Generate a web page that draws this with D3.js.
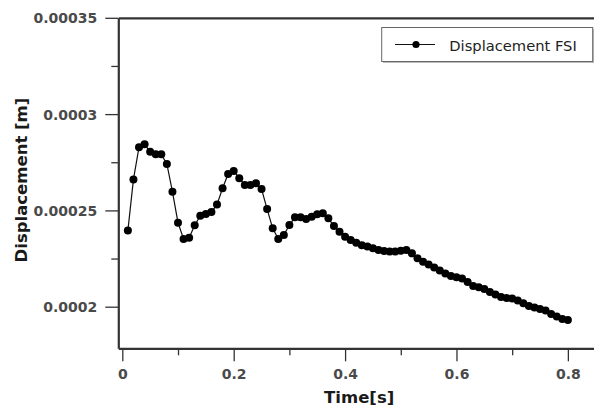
<!DOCTYPE html>
<html>
<head>
<meta charset="utf-8">
<script src="https://cdn.jsdelivr.net/npm/d3@7"></script>
<style>
  html, body { margin: 0; padding: 0; background: #fff; }
  svg { display: block; }
</style>
</head>
<body>
<svg id="chart" width="594" height="409"></svg>
<script>
// ---- data ----
const times = [0.01,0.02,0.03,0.04,0.05,0.06,0.07,0.08,0.09,0.10,
  0.11,0.12,0.13,0.14,0.15,0.16,0.17,0.18,0.19,0.20,
  0.21,0.22,0.23,0.24,0.25,0.26,0.27,0.28,0.29,0.30,
  0.31,0.32,0.33,0.34,0.35,0.36,0.37,0.38,0.39,0.40,
  0.41,0.42,0.43,0.44,0.45,0.46,0.47,0.48,0.49,0.50,
  0.51,0.52,0.53,0.54,0.55,0.56,0.57,0.58,0.59,0.60,
  0.61,0.62,0.63,0.64,0.65,0.66,0.67,0.68,0.69,0.70,
  0.71,0.72,0.73,0.74,0.75,0.76,0.77,0.78,0.79,0.80];
const displacementFSI = [0.0002395,0.0002661,0.0002828,0.0002843,0.0002805,0.0002791,0.0002791,0.0002741,0.0002597,0.0002436,
  0.0002352,0.0002358,0.0002423,0.0002472,0.0002481,0.0002492,0.0002530,0.0002615,0.0002689,0.0002705,
  0.0002667,0.0002632,0.0002632,0.0002641,0.0002611,0.0002507,0.0002407,0.0002352,0.0002372,0.0002424,
  0.0002464,0.0002464,0.0002455,0.0002467,0.0002480,0.0002485,0.0002459,0.0002419,0.0002389,0.0002363,
  0.0002346,0.0002332,0.0002319,0.0002312,0.0002303,0.0002294,0.0002289,0.0002286,0.0002286,0.0002291,
  0.0002294,0.0002277,0.0002251,0.0002234,0.0002219,0.0002204,0.0002188,0.0002172,0.0002159,0.0002153,
  0.0002146,0.0002128,0.0002107,0.0002101,0.0002092,0.0002076,0.0002063,0.0002050,0.0002045,0.0002043,
  0.0002032,0.0002018,0.0002004,0.0001996,0.0001988,0.0001980,0.0001962,0.0001949,0.0001936,0.0001931];
const xMajorTicks = [0, 0.2, 0.4, 0.6, 0.8];
const xTickLabels = ["0", "0.2", "0.4", "0.6", "0.8"];
const xMinorTicks = [0.1, 0.3, 0.5, 0.7];
const yMajorTicks = [0.0002, 0.00025, 0.0003, 0.00035];
const yTickLabels = ["0.0002", "0.00025", "0.0003", "0.00035"];
const yMinorTicks = [0.000225, 0.000275, 0.000325];
const seriesName = "Displacement FSI";
const xTitle = "Time[s]";
const yTitle = "Displacement [m]";

// ---- layout ----
const pLeft = 118.3, pRight = 600, pTop = 17.8, pBottom = 348.3;
const svg = d3.select("#chart");

const x = d3.scaleLinear().domain([-0.0072, 0.8577]).range([pLeft, pRight]);
const y = d3.scaleLinear().domain([0.0001784, 0.00035]).range([pBottom, pTop]);

const axisColor = "#333";
const labelColor = "#4a4a4a";
const font = "DejaVu Sans, sans-serif";

// minor ticks
svg.append("g").attr("transform", `translate(0,${pBottom})`)
  .call(d3.axisBottom(x).tickValues(xMinorTicks).tickSize(7).tickFormat(""))
  .call(g => g.select(".domain").remove());
svg.append("g").attr("transform", `translate(${pLeft},0)`)
  .call(d3.axisLeft(y).tickValues(yMinorTicks).tickSize(7).tickFormat(""))
  .call(g => g.select(".domain").remove());

// major ticks
const xAxis = svg.append("g").attr("transform", `translate(0,${pBottom})`)
  .call(d3.axisBottom(x).tickValues(xMajorTicks).tickSize(13).tickSizeOuter(0)
    .tickFormat((d, i) => xTickLabels[i]));
const yAxis = svg.append("g").attr("transform", `translate(${pLeft},0)`)
  .call(d3.axisLeft(y).tickValues(yMajorTicks).tickSize(13).tickSizeOuter(0)
    .tickFormat((d, i) => yTickLabels[i]));
// top frame
svg.append("g").attr("transform", `translate(0,${pTop})`)
  .call(d3.axisTop(x).tickValues([]).tickSizeOuter(0));

svg.selectAll(".tick line").attr("stroke", axisColor).attr("stroke-width", 1.3);
svg.selectAll(".domain").attr("stroke", axisColor).attr("stroke-width", 2.2);
svg.selectAll(".tick text").attr("fill", labelColor)
  .style("font-family", font).style("font-weight", "bold").style("font-size", "14px");
xAxis.selectAll(".tick text").attr("dy", "0.71em").attr("y", 21);
yAxis.selectAll(".tick text").attr("x", -21).attr("dy", "0.36em");

// axis titles
svg.append("text").attr("x", (pLeft + pRight) / 2).attr("y", 402.5)
  .attr("text-anchor", "middle").attr("fill", "#1a1a1a")
  .style("font-family", font).style("font-weight", "bold").style("font-size", "16.5px")
  .text(xTitle);
svg.append("text").attr("transform", `translate(27,${(pTop + pBottom) / 2 - 3}) rotate(-90)`)
  .attr("text-anchor", "middle").attr("fill", "#1a1a1a")
  .style("font-family", font).style("font-weight", "bold").style("font-size", "16.5px")
  .text(yTitle);

// series
const line = d3.line().x((d, i) => x(times[i])).y(d => y(d));
svg.append("path").datum(displacementFSI)
  .attr("d", line).attr("fill", "none").attr("stroke", "#111").attr("stroke-width", 1.2);
svg.append("g").selectAll("circle").data(displacementFSI).join("circle")
  .attr("cx", (d, i) => x(times[i])).attr("cy", d => y(d)).attr("r", 4)
  .attr("fill", "#000");

// legend
const lg = svg.append("g");
lg.append("rect").attr("x", 383).attr("y", 29).attr("width", 211).attr("height", 34)
  .attr("fill", "#bbb");
lg.append("rect").attr("x", 381.7).attr("y", 27.5).attr("width", 211).attr("height", 34)
  .attr("fill", "#fff").attr("stroke", "#666").attr("stroke-width", 1);
lg.append("line").attr("x1", 395).attr("x2", 435).attr("y1", 44.5).attr("y2", 44.5)
  .attr("stroke", "#111").attr("stroke-width", 1.2);
lg.append("circle").attr("cx", 416).attr("cy", 44.5).attr("r", 3.6).attr("fill", "#000");
lg.append("text").attr("x", 449.3).attr("y", 50.5).attr("fill", "#222")
  .style("font-family", font).style("font-size", "14.7px").text(seriesName);
</script>
</body>
</html>
